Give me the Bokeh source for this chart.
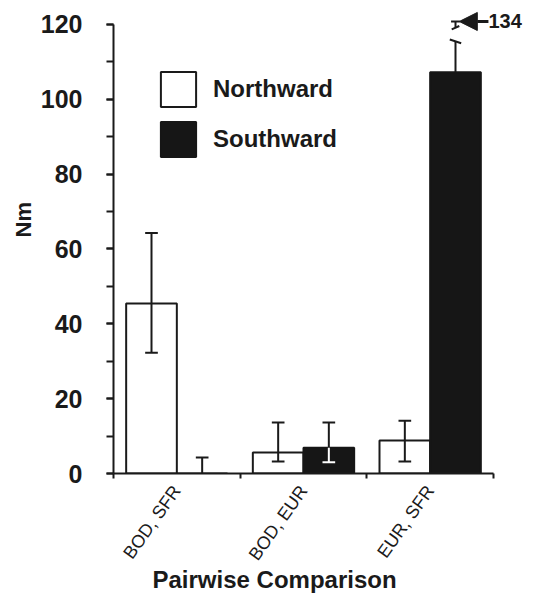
import math
import numpy as np
from bokeh.plotting import figure
from bokeh.models import (Range1d, FixedTicker, SingleIntervalTicker, Legend, LegendItem,
                          Arrow, NormalHead, Title)
from bokeh.embed import file_html
from bokeh.resources import INLINE
from bokeh.core.properties import value

# ---- data ----
categories = ["BOD, SFR", "BOD, EUR", "EUR, SFR"]
north = [45.4, 5.6, 8.8]
north_upper = [64.3, 13.6, 14.1]
north_lower = [32.3, 3.2, 3.2]
south = [0.0, 6.9, 107.2]
south_upper = [4.3, 13.6, 134.0]
south_lower = [None, 3.0, None]
y_ticks_interval = 20
y_max = 120
x_title = "Pairwise Comparison"
y_title = "Nm"

# ---- styling ----
FONT = "Liberation Sans"
INK = "#1a1a1a"
BLACK_FILL = "#161616"
BAR_W = 0.4
CAP = 0.05
BREAK_LOW = 115.5   # where the off-scale error bar is cut
BREAK_HIGH = 119.3
BREAK_TOP = 120.8

idx = np.arange(len(categories))
xn = idx + 0.3
xs = idx + 0.7

p = figure(width=535, height=596, x_range=Range1d(0, 3.3), y_range=Range1d(0, 124),
           output_backend="svg", toolbar_location=None,
           min_border_left=113, min_border_right=4, min_border_top=9, min_border_bottom=123)
p.xgrid.visible = False
p.ygrid.visible = False
p.outline_line_color = None
p.background_fill_color = "white"
p.border_fill_color = "white"

# bars
rn = p.vbar(x=xn, top=north, bottom=0, width=BAR_W, fill_color="white",
            line_color=INK, line_width=2)
rs = p.vbar(x=xs, top=south, bottom=0, width=BAR_W, fill_color=BLACK_FILL,
            line_color=BLACK_FILL, line_width=2)

# error bars - northward (black, full)
p.segment(x0=xn, y0=north_lower, x1=xn, y1=north_upper, line_color=INK, line_width=2)
p.segment(x0=xn - CAP, y0=north_upper, x1=xn + CAP, y1=north_upper, line_color=INK, line_width=2)
p.segment(x0=xn - CAP, y0=north_lower, x1=xn + CAP, y1=north_lower, line_color=INK, line_width=2)

# error bars - southward upper part (black), cut at the break if off scale
up_x, up_y0, up_y1, cap_x, cap_y = [], [], [], [], []
for x, top, hi in zip(xs, south, south_upper):
    shown = min(hi, BREAK_LOW)
    up_x.append(x); up_y0.append(top); up_y1.append(shown)
    if hi <= y_max:
        cap_x.append(x); cap_y.append(hi)
cap_x = np.array(cap_x)
p.segment(x0=up_x, y0=up_y0, x1=up_x, y1=up_y1, line_color=INK, line_width=2)
p.segment(x0=cap_x - CAP, y0=cap_y, x1=cap_x + CAP, y1=cap_y, line_color=INK, line_width=2)

# southward lower part (white, inside black bar)
lo_x = np.array([x for x, lo in zip(xs, south_lower) if lo is not None])
lo_top = [t for t, lo in zip(south, south_lower) if lo is not None]
lo_v = [lo for lo in south_lower if lo is not None]
p.segment(x0=lo_x, y0=lo_v, x1=lo_x, y1=lo_top, line_color="white", line_width=2)
p.segment(x0=lo_x - CAP, y0=lo_v, x1=lo_x + CAP, y1=lo_v, line_color="white", line_width=2)

# broken error bar for off-scale value
off = [(x, hi) for x, hi in zip(xs, south_upper) if hi > y_max]
for x, hi in off:
    p.segment(x0=[x - 0.045], y0=[BREAK_LOW + 0.5], x1=[x + 0.045], y1=[BREAK_LOW - 0.5],
              line_color=INK, line_width=2)
    p.segment(x0=[x - 0.03], y0=[BREAK_HIGH - 0.6], x1=[x + 0.03], y1=[BREAK_HIGH + 0.3],
              line_color=INK, line_width=2)
    p.segment(x0=[x], y0=[BREAK_HIGH], x1=[x], y1=[BREAK_TOP], line_color=INK, line_width=2)
    p.segment(x0=[x - 0.035], y0=[BREAK_TOP], x1=[x + 0.035], y1=[BREAK_TOP],
              line_color=INK, line_width=2)
    p.add_layout(Arrow(end=NormalHead(size=18, fill_color=INK, line_color=INK),
                       x_start=x + 0.26, y_start=BREAK_TOP, x_end=x + 0.03, y_end=BREAK_TOP,
                       line_color=INK, line_width=3))
    p.text(x=[x + 0.26], y=[BREAK_TOP], text=[f"{hi:.0f}"], text_align="left",
           text_baseline="middle", text_font=value(FONT), text_font_size="20px",
           text_font_style="bold", text_color=INK)

# y axis
ya = p.yaxis[0]
ya.ticker = SingleIntervalTicker(interval=y_ticks_interval, num_minor_ticks=2)
ya.bounds = (0, y_max)
ya.axis_line_width = 2
ya.axis_line_color = INK
ya.major_tick_line_width = 2
ya.minor_tick_line_width = 2
ya.major_tick_line_color = INK
ya.minor_tick_line_color = INK
ya.major_tick_out = 7
ya.major_tick_in = 0
ya.minor_tick_out = 7
ya.minor_tick_in = 0
ya.major_label_standoff = 24
ya.major_label_text_font = FONT
ya.major_label_text_font_size = "25px"
ya.major_label_text_font_style = "bold"
ya.major_label_text_color = INK

# x axis
xa = p.xaxis[0]
xa.ticker = FixedTicker(ticks=list(idx + 0.5), minor_ticks=list(range(len(categories) + 1)))
xa.major_label_overrides = {float(i + 0.5): c for i, c in enumerate(categories)}
xa.bounds = (0, len(categories))
xa.axis_line_width = 2
xa.axis_line_color = INK
xa.major_tick_out = 0
xa.major_tick_in = 0
xa.minor_tick_out = 5
xa.minor_tick_in = 0
xa.minor_tick_line_width = 2
xa.minor_tick_line_color = INK
xa.major_label_orientation = 0.95
xa.major_label_standoff = 9
xa.major_label_text_font = FONT
xa.major_label_text_font_size = "18px"
xa.major_label_text_color = INK

# axis titles
p.add_layout(Title(text=x_title, align="left", offset=39, standoff=-17,
                   text_font=FONT, text_font_size="24px", text_font_style="bold",
                   text_color=INK), "below")
p.add_layout(Title(text=y_title, align="left", offset=236, standoff=3,
                   text_font=FONT, text_font_size="22px", text_font_style="bold",
                   text_color=INK), "left")

# legend
legend = Legend(items=[LegendItem(label="Northward", renderers=[rn]),
                       LegendItem(label="Southward", renderers=[rs])],
                location=(43, 312), glyph_width=44, glyph_height=44, spacing=6,
                label_standoff=13, padding=0, margin=0, border_line_color=None,
                background_fill_alpha=0, label_text_font=FONT, label_text_font_size="24px",
                label_text_font_style="bold", label_text_color=INK, label_height=44)
p.add_layout(legend)

open("out.html", "w").write(file_html(p, INLINE))
